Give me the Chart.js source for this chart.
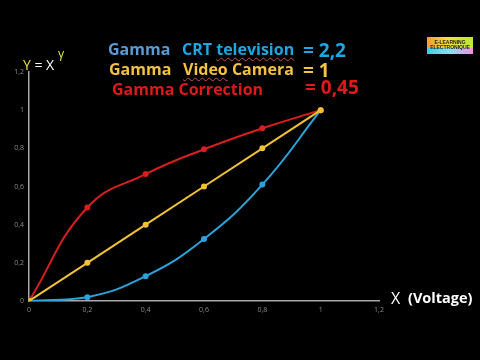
<!DOCTYPE html>
<html><head><meta charset="utf-8">
<script src="https://cdn.jsdelivr.net/npm/chart.js@4"></script>
<style>
html,body{margin:0;padding:0;background:#000;width:480px;height:360px;overflow:hidden;}
#wrap{position:relative;width:480px;height:360px;background:#000;}
canvas{position:absolute;left:0;top:0;}
.t{position:absolute;white-space:nowrap;font-family:"Open Sans",sans-serif;font-weight:bold;line-height:1;}
.logo{position:absolute;left:427px;top:37px;width:46px;height:17px;background:linear-gradient(90deg,#f59a3a 0%,#f5e03a 45%,#b8e83a 100%);overflow:hidden;}
.logo:after{content:"";position:absolute;left:0;right:0;bottom:0;height:6px;background:linear-gradient(90deg,#3ad0e8 0%,#8ee0e8 50%,#f090e0 100%);}
.logo span{position:absolute;left:0;right:0;text-align:center;font-family:"Liberation Sans Narrow","Liberation Sans",sans-serif;font-weight:bold;font-size:5px;color:#222;line-height:5px;z-index:2;}
</style></head><body>
<div id="wrap"><canvas id="c" width="480" height="360"></canvas>
<div class="t" style="left:108px;top:41px;font-size:16px;color:#5b9bd5">Gamma</div>
<div class="t" style="left:182px;top:41px;font-size:16px;color:#1ea5e3"><span>CRT </span><span style="text-decoration:underline wavy #c05050 1px;text-underline-offset:2px">television</span></div>
<div class="t" style="left:303px;top:41px;font-size:19px;color:#1ea5e3">= 2,2</div>
<div class="t" style="left:109px;top:61px;font-size:16px;color:#f4c140">Gamma</div>
<div class="t" style="left:183px;top:61px;font-size:16px;color:#f4c140"><span style="text-decoration:underline wavy #c05050 1px;text-underline-offset:2px">Video</span> Camera</div>
<div class="t" style="left:303px;top:61px;font-size:19px;color:#f4c140">= 1</div>
<div class="t" style="left:112px;top:81px;font-size:16px;color:#e01818">Gamma Correction</div>
<div class="t" style="left:305px;top:78px;font-size:19px;color:#e01818">= 0,45</div>
<div class="t" style="left:23px;top:58px;font-size:14px;font-weight:normal;color:#fff"><span style="color:#e6e64a">Y</span> = X</div>
<div class="t" style="left:58px;top:48px;font-size:12px;font-weight:normal;color:#e6e64a">γ</div>
<div class="t" style="left:391px;top:290px;font-size:16px;font-weight:normal;color:#fff">X</div>
<div class="t" style="left:408px;top:291px;font-size:14.5px;color:#fff">(Voltage)</div>
<div class="logo"><span style="top:3px">E-LEARNING</span><span style="top:8px">ELECTRONIQUE</span></div>
</div>
<script>
const xValues=[0,0.2,0.4,0.6,0.8,1];
const crtValues=[0,0.02,0.13,0.325,0.61,1];
const cameraValues=[0,0.2,0.4,0.6,0.8,1];
const correctionValues=[0,0.49,0.665,0.795,0.905,1];
const tickValues=[0,0.2,0.4,0.6,0.8,1,1.2];
const tickLabels=["0","0,2","0,4","0,6","0,8","1","1,2"];

function pts(ys){return xValues.map((x,i)=>({x:x,y:ys[i]}));}
const tickFont={family:"Open Sans",size:7};
const tickColor="#8a8a8a";
const axisColor="#a8a8a8";
function tickCb(v){const i=tickValues.findIndex(t=>Math.abs(t-v)<1e-9);return i>=0?tickLabels[i]:"";}

new Chart(document.getElementById('c'),{
  type:'scatter',
  data:{datasets:[
    {label:'Gamma CRT television',order:3,data:pts(crtValues),showLine:true,borderColor:'#2ba3dc',backgroundColor:'#2ba3dc',borderWidth:2,pointRadius:2,pointHoverRadius:2,tension:0.45},
    {label:'Gamma Video Camera',order:1,data:pts(cameraValues),showLine:true,borderColor:'#f2c232',backgroundColor:'#f2c232',borderWidth:2,pointRadius:2,pointHoverRadius:2,tension:0},
    {label:'Gamma Correction',order:2,data:pts(correctionValues),showLine:true,borderColor:'#d91e1e',backgroundColor:'#d91e1e',borderWidth:2,pointRadius:2,pointHoverRadius:2,tension:0.45}
  ]},
  options:{
    responsive:false,animation:false,
    layout:{padding:{left:0,right:101,top:72,bottom:39}},
    plugins:{legend:{display:false},tooltip:{enabled:false}},
    scales:{
      x:{type:'linear',min:0,max:1.2,
        afterBuildTicks:s=>{s.ticks=tickValues.map(v=>({value:v}));},
        afterFit:s=>{s.height=20;},
        grid:{display:false,drawTicks:false},
        border:{display:true,color:axisColor,width:1.5},
        ticks:{color:tickColor,font:tickFont,padding:5,maxRotation:0,autoSkip:false,callback:tickCb}},
      y:{type:'linear',min:0,max:1.2,
        afterBuildTicks:s=>{s.ticks=tickValues.map(v=>({value:v}));},
        afterFit:s=>{s.width=29;},
        grid:{display:false,drawTicks:false},
        border:{display:true,color:axisColor,width:1.5},
        ticks:{color:tickColor,font:tickFont,padding:5,autoSkip:false,callback:tickCb}}
    }
  }
});
</script>
</body></html>
